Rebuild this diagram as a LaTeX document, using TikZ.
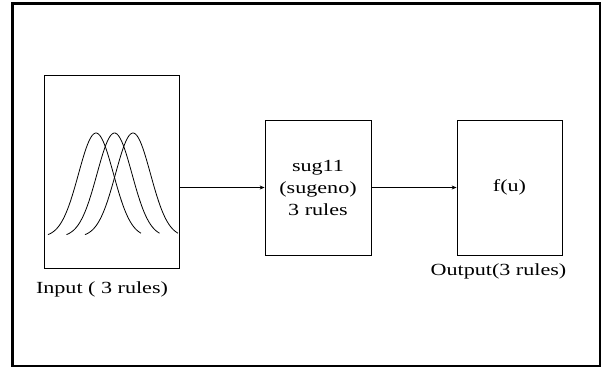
\documentclass[tikz,border=0pt]{standalone}
\usepackage{fontspec}
\usetikzlibrary{arrows.meta}
\newfontfamily\diagfont[FakeStretch=1.3]{Liberation Serif}

\begin{document}
\begin{tikzpicture}[x=1pt,y=-1pt,
		block/.style={draw,line width=0.8pt,inner sep=0pt,align=center,
			font=\diagfont\fontsize{17}{22}\selectfont},
		lbl/.style={inner sep=0pt,font=\diagfont\fontsize{17}{22}\selectfont},
		flow/.style={line width=0.8pt,-{Stealth[length=5pt,width=4pt]}}]
		% Page and frame
		\useasboundingbox (0,0) rectangle (601,367);
		\draw[line width=2.5pt] (12.5,3.5) rectangle (600.5,366);
		
		% Draw blocks
		\node[block,minimum width=135,minimum height=193] (input) at (111.5,171.5) {};
		\node[block,minimum width=106,minimum height=135] (sug) at (318,187.5) {sug11\\(sugeno)\\3 rules};
		\node[block,minimum width=105,minimum height=135] (fu) at (509.5,187.5) {f(u)};
		
		% Membership functions
		\foreach \c in {96,114.5,133}
			\draw[line width=0.8pt,smooth,domain=-48:45,samples=60]
				plot ({\c+\x},{237-104*exp(-(\x/17.5)*(\x/17.5)/2)});
		
		% Draw arrows
		\draw[flow] (input.east |- sug.west) -- (sug.west);
		\draw[flow] (sug.east) -- (fu.west);
		
		% Labels
		\node[lbl] (inlabel) at (102,289) {Input ( 3 rules)};
		\node[lbl] (outlabel) at (498.5,271) {Output(3 rules)};
	\end{tikzpicture}
\end{document}
